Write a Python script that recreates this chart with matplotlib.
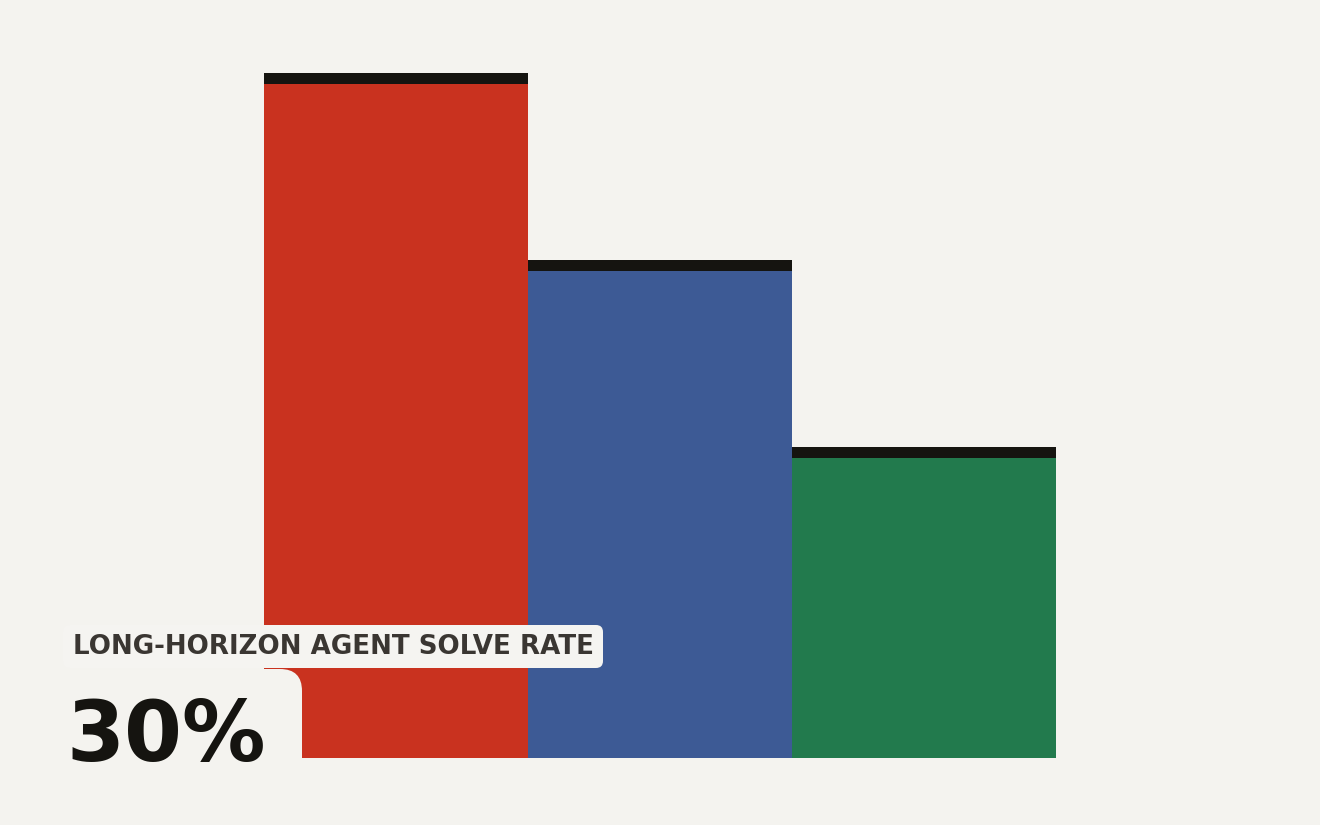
import matplotlib
matplotlib.use("Agg")
import matplotlib.pyplot as plt
from matplotlib.patches import FancyBboxPatch

# ---- data ----
categories = ["A", "B", "C"]
values = [66, 48, 30]
colors = ["#c9321f", "#3d5a95", "#227a4d"]
title_text = "LONG-HORIZON AGENT SOLVE RATE"
big_text = "30%"

BG = "#f4f3ef"
CAP = "#151410"

W, H = 1320, 825
fig = plt.figure(figsize=(W / 100, H / 100), dpi=100, facecolor=BG)

# bar axes (pixel layout)
left, right, top, bottom = 264, 1056, 73, 758
ax = fig.add_axes([left / W, (H - bottom) / H, (right - left) / W, (bottom - top) / H])
ax.set_facecolor("none")
x = list(range(len(values)))
ax.bar(x, values, width=1.0, color=colors, linewidth=0)
ax.set_xlim(-0.5, len(values) - 0.5)
ymax = max(values)
ax.set_ylim(0, ymax)
cap_px = 11
cap_h = cap_px * ymax / (bottom - top)
ax.bar(x, [cap_h] * len(values), bottom=[v - cap_h for v in values], width=1.0,
       color=CAP, linewidth=0)
ax.axis("off")

# overlay axes in pixel coordinates
ov = fig.add_axes([0, 0, 1, 1], zorder=5)
ov.set_xlim(0, W)
ov.set_ylim(H, 0)
ov.axis("off")
ov.patch.set_alpha(0)

# big number box
ov.add_patch(FancyBboxPatch((30, 669), 272, 200,
                            boxstyle="round,pad=0,rounding_size=22",
                            facecolor=BG, edgecolor="none"))
# title box
ov.add_patch(FancyBboxPatch((63, 625), 540, 43,
                            boxstyle="round,pad=0,rounding_size=7",
                            facecolor="#f5f4f1", edgecolor="none"))

ov.text(73, 654, title_text, fontsize=18.8, fontweight="bold", color="#3a3632",
        ha="left", va="baseline", family="DejaVu Sans")
ov.text(66, 761, big_text, fontsize=60, fontweight="bold", color=CAP,
        ha="left", va="baseline", family="DejaVu Sans")

fig.savefig("out.png", dpi=100, facecolor=BG)
